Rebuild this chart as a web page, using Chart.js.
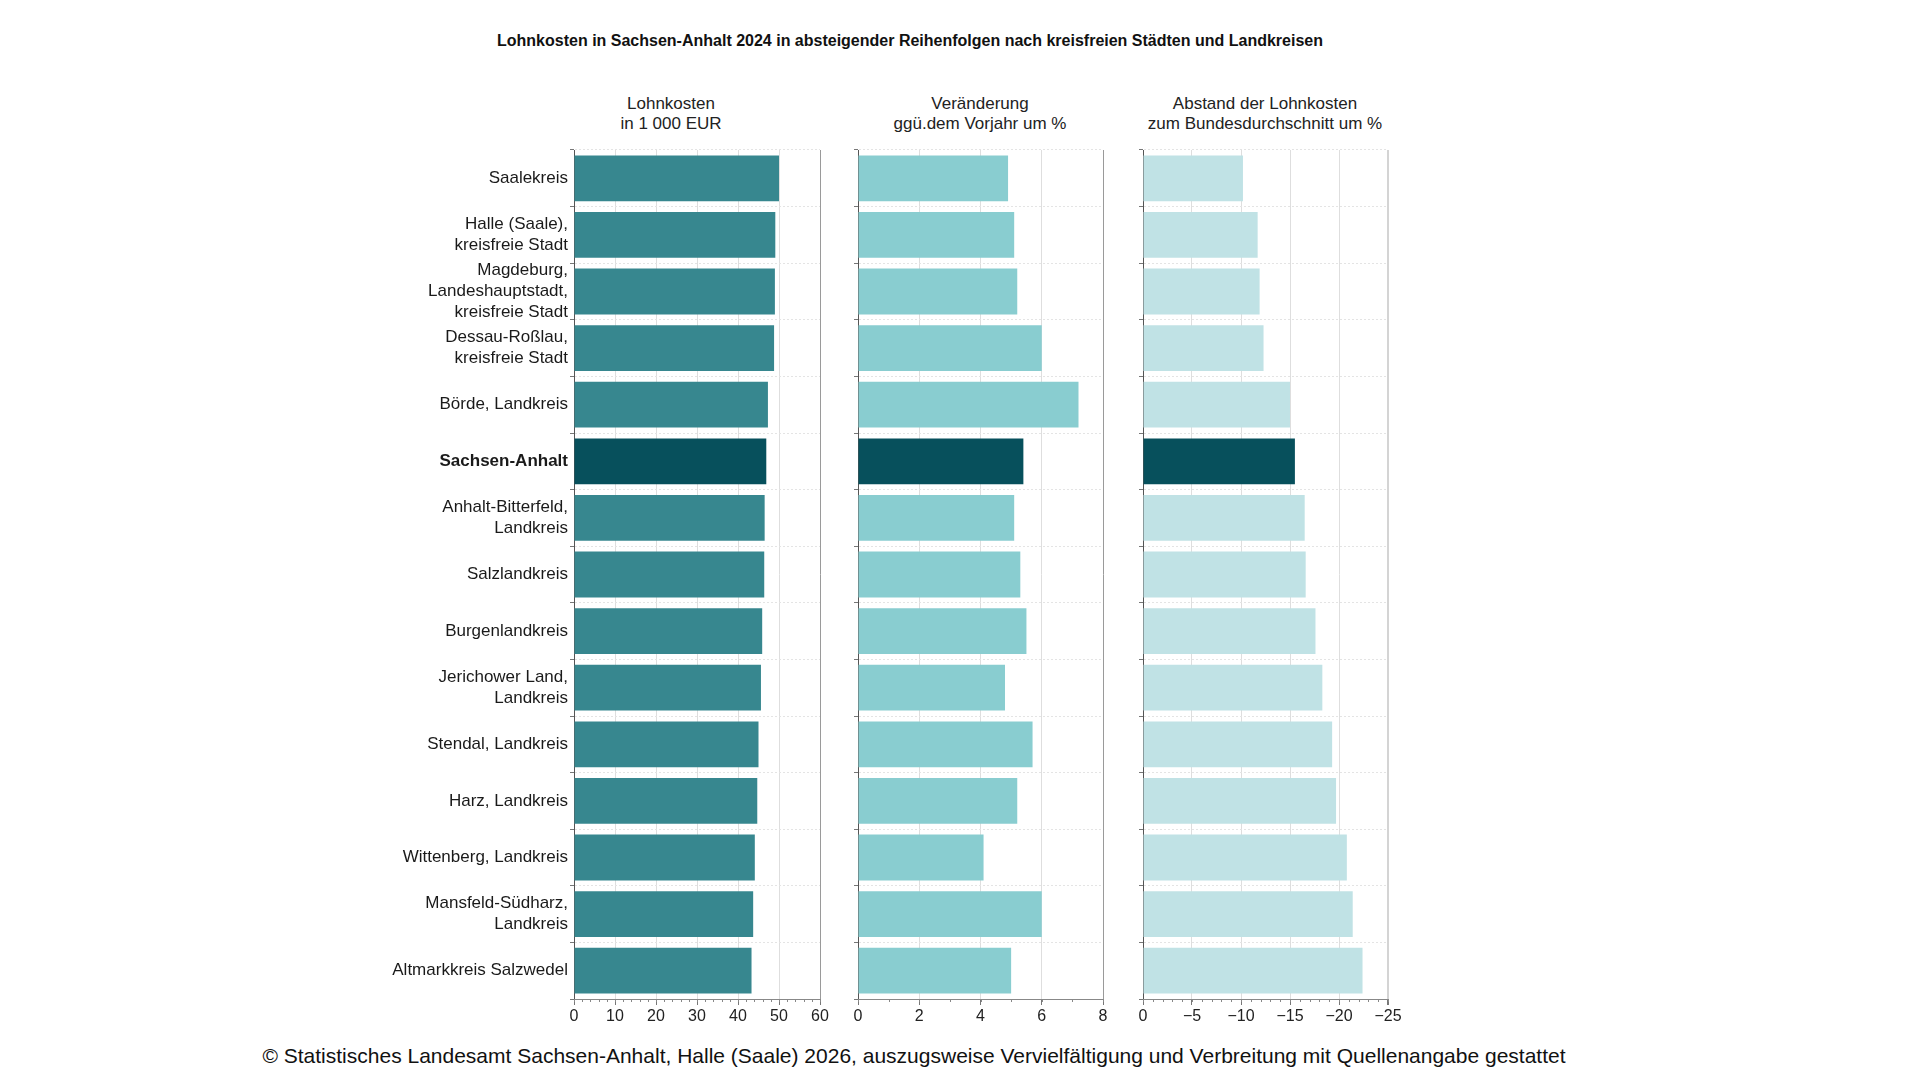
<!DOCTYPE html>
<html lang="de">
<head>
<meta charset="UTF-8">
<title>Lohnkosten in Sachsen-Anhalt 2024</title>
<script src="https://cdn.jsdelivr.net/npm/chart.js"></script>
<style>
  body { margin: 0; background: #fff; font-family: "Liberation Sans", Arial, sans-serif; color: #111; }
  #page { position: relative; width: 1913px; height: 1075px; overflow: hidden; }
  .txt { position: absolute; transform: translate(-50%, -50%); white-space: nowrap; text-align: center; }
  .head { font-size: 17px; line-height: 20px; color: #222; }
  canvas { position: absolute; }
</style>
</head>
<body>
<div id="page">
  <div class="txt" style="left:910px; top:41px; font-size:16px; font-weight:bold;">Lohnkosten in Sachsen-Anhalt 2024 in absteigender Reihenfolgen nach kreisfreien Städten und Landkreisen</div>
  <div class="txt head" style="left:671px; top:114px;">Lohnkosten<br>in 1 000 EUR</div>
  <div class="txt head" style="left:980px; top:114px;">Veränderung<br>ggü.dem Vorjahr um %</div>
  <div class="txt head" style="left:1265px; top:114px;">Abstand der Lohnkosten<br>zum Bundesdurchschnitt um %</div>

  <canvas id="c1" width="535" height="894" style="left:300px; top:145px;"></canvas>
  <canvas id="c2" width="266" height="894" style="left:852px; top:145px;"></canvas>
  <canvas id="c3" width="266" height="894" style="left:1137px; top:145px;"></canvas>

  <div class="txt" style="left:914px; top:1056px; font-size:21px; color:#111;">© Statistisches Landesamt Sachsen-Anhalt, Halle (Saale) 2026, auszugsweise Vervielfältigung und Verbreitung mit Quellenangabe gestattet</div>
</div>

<script>
// Kreise / kreisfreie Städte, absteigend nach Lohnkosten
const regions = [
  "Saalekreis",
  ["Halle (Saale),", "kreisfreie Stadt"],
  ["Magdeburg,", "Landeshauptstadt,", "kreisfreie Stadt"],
  ["Dessau-Roßlau,", "kreisfreie Stadt"],
  "Börde, Landkreis",
  "Sachsen-Anhalt",
  ["Anhalt-Bitterfeld,", "Landkreis"],
  "Salzlandkreis",
  "Burgenlandkreis",
  ["Jerichower Land,", "Landkreis"],
  "Stendal, Landkreis",
  "Harz, Landkreis",
  "Wittenberg, Landkreis",
  ["Mansfeld-Südharz,", "Landkreis"],
  "Altmarkkreis Salzwedel"
];
const landIndex = 5;

const lohnkosten   = [50.0, 49.1, 49.0, 48.8, 47.3, 46.9, 46.5, 46.4, 45.9, 45.6, 45.0, 44.7, 44.1, 43.7, 43.3];
const veraenderung = [4.9, 5.1, 5.2, 6.0, 7.2, 5.4, 5.1, 5.3, 5.5, 4.8, 5.7, 5.2, 4.1, 6.0, 5.0];
const abstand      = [-10.2, -11.7, -11.9, -12.3, -15.0, -15.5, -16.5, -16.6, -17.6, -18.3, -19.3, -19.7, -20.8, -21.4, -22.4];

const darkColor = '#07505c';

Chart.defaults.font.family = "'Liberation Sans', Arial, sans-serif";
Chart.defaults.font.size = 16;
Chart.defaults.color = '#222';

// small unlabeled ticks between the major ones
const minorTicks = {
  id: 'minorTicks',
  afterDraw(chart, args, opts) {
    const x = chart.scales.x;
    const ctx = chart.ctx;
    ctx.save();
    ctx.strokeStyle = '#888';
    ctx.lineWidth = 1;
    for (let v = x.min; v <= x.max + 1e-9; v += opts.step) {
      const px = Math.round(x.getPixelForValue(v)) + 0.5;
      ctx.beginPath();
      ctx.moveTo(px, x.top);
      ctx.lineTo(px, x.top + 3);
      ctx.stroke();
    }
    ctx.restore();
  }
};

function makeChart(id, data, color, cfg) {
  const colors = data.map((v, i) => i === landIndex ? darkColor : color);
  return new Chart(document.getElementById(id), {
    type: 'bar',
    data: {
      labels: regions,
      datasets: [{
        data: data,
        backgroundColor: colors,
        barPercentage: 0.81,
        categoryPercentage: 1
      }]
    },
    plugins: [minorTicks],
    options: {
      indexAxis: 'y',
      responsive: false,
      animation: false,
      layout: { padding: { top: 5, right: 15, left: 0, bottom: 0 } },
      plugins: {
        legend: { display: false },
        tooltip: { enabled: false },
        minorTicks: { step: cfg.minor }
      },
      scales: {
        x: {
          min: cfg.min,
          max: cfg.max,
          reverse: !!cfg.reverse,
          afterFit: s => { s.paddingLeft = 0; s.paddingRight = 0; s.height = 40; },
          ticks: {
            stepSize: cfg.step,
            autoSkip: false,
            maxRotation: 0,
            padding: 2,
            color: '#222',
            font: { size: 16 },
            callback: v => v < 0 ? '\u2212' + Math.abs(v) : String(v)
          },
          grid: {
            color: c => {
              const v = c.tick ? c.tick.value : null;
              if (v === 0) return 'rgba(0,0,0,0)';
              if (v === cfg.edge) return cfg.edgeColor;
              return '#dedede';
            },
            lineWidth: c => (c.tick && c.tick.value === cfg.edge) ? cfg.edgeWidth : 1,
            tickColor: '#777',
            tickLength: 6
          },
          border: { color: '#888', width: 1 }
        },
        y: {
          afterFit: s => { s.width = cfg.yWidth; s.paddingTop = 0; s.paddingBottom = 0; },
          ticks: {
            display: cfg.showLabels,
            autoSkip: false,
            padding: 2,
            color: '#1a1a1a',
            font: c => ({ size: 17, lineHeight: 1.25, weight: c.index === landIndex ? 'bold' : 'normal' })
          },
          grid: {
            offset: true,
            color: '#e4e4e4',
            tickColor: '#777',
            tickLength: 4
          },
          border: { color: '#555', width: 1, dash: [2, 2] }
        }
      }
    }
  });
}

makeChart('c1', lohnkosten, '#37878f', {
  min: 0, max: 60, step: 10, minor: 2, edge: 60, edgeColor: '#9a9a9a', edgeWidth: 1,
  yWidth: 274, showLabels: true
});
makeChart('c2', veraenderung, '#89cdd0', {
  min: 0, max: 8, step: 2, minor: 1, edge: 8, edgeColor: '#9a9a9a', edgeWidth: 1,
  yWidth: 6, showLabels: false
});
makeChart('c3', abstand, '#c0e2e5', {
  min: -25, max: 0, step: 5, minor: 1, reverse: true, edge: -25, edgeColor: '#d4d4d4', edgeWidth: 2,
  yWidth: 6, showLabels: false
});
</script>
</body>
</html>
